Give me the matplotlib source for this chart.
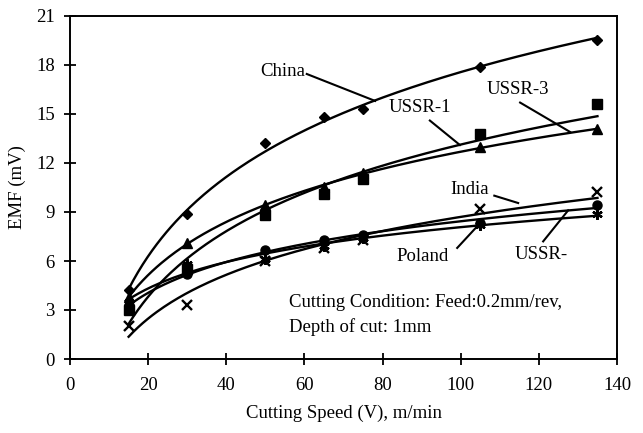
import numpy as np
import matplotlib
matplotlib.use("Agg")
import matplotlib.pyplot as plt

plt.rcParams['font.family'] = ['Liberation Serif', 'DejaVu Serif']

speed = [15, 30, 50, 65, 75, 105, 135]
china = [4.2, 8.9, 13.2, 14.8, 15.3, 17.9, 19.5]
ussr1 = [3.8, 7.1, 9.4, 10.5, 11.4, 13.0, 14.1]
ussr3 = [3.0, 5.5, 8.8, 10.1, 11.0, 13.8, 15.6]
india = [2.0, 3.3, 6.0, 6.8, 7.3, 9.2, 10.2]
poland = [3.2, 5.2, 6.7, 7.3, 7.6, 8.3, 9.4]
ussr_ = [3.5, 5.8, 6.1, 6.9, 7.4, 8.2, 8.9]

series = [
    ("China", china, "D", 5.5),
    ("USSR-1", ussr1, "^", 6.5),
    ("USSR-3", ussr3, "s", 6.5),
    ("India", india, "x", 6.5),
    ("Poland", poland, "o", 6.5),
    ("USSR-", ussr_, (6, 2, 0), 7.5),
]

xticks = [0, 20, 40, 60, 80, 100, 120, 140]
yticks = [0, 3, 6, 9, 12, 15, 18, 21]

FS = 13.5

fig = plt.figure(figsize=(6.43, 4.33), dpi=100)
ax = fig.add_axes([70/643, 1-359/433, (617-70)/643, (359-16)/433])

x = np.array(speed, dtype=float)
xs = np.linspace(15, 135, 200)
for name, vals, mk, ms in series:
    y = np.array(vals)
    a, b = np.polyfit(np.log(x), y, 1)
    ax.plot(xs, a*np.log(xs) + b, color='black', lw=1.7, zorder=2)
    mew = 1.7 if mk == "x" or isinstance(mk, tuple) else 1
    ax.plot(x, y, linestyle='none', marker=mk, markersize=ms, color='black',
            markeredgewidth=mew, zorder=3)

# labels with leader lines (label pos, line start, line end)
labels = [
    ("China", (54.5, 17.6), (60.6, 17.45), (78.1, 15.8)),
    ("USSR-1", (89.6, 15.4), (92.1, 14.6), (99.8, 13.1)),
    ("USSR-3", (114.7, 16.5), (115.2, 15.7), (128.0, 13.9)),
    ("India", (102.4, 10.4), (108.6, 10.0), (114.7, 9.55)),
    ("Poland", (90.3, 6.25), (99.1, 6.8), (104.9, 8.3)),
    ("USSR-", (120.6, 6.4), (121.1, 7.2), (127.5, 9.1)),
]
for txt, pos, p0, p1 in labels:
    ax.text(pos[0], pos[1], txt, ha='center', va='center', fontsize=FS)
    ax.plot([p0[0], p1[0]], [p0[1], p1[1]], color='black', lw=1.5)

ax.text(56.1, 3.43, "Cutting Condition: Feed:0.2mm/rev,", ha='left', va='center', fontsize=FS)
ax.text(56.1, 1.96, "Depth of cut: 1mm", ha='left', va='center', fontsize=FS)

ax.set_xlim(0, 140)
ax.set_ylim(0, 21)
ax.set_xticks(xticks)
ax.set_yticks(yticks)
ax.tick_params(direction='inout', length=8, width=1.3, labelsize=FS)
ax.tick_params(axis='x', pad=9)
ax.tick_params(axis='y', pad=7)
for s in ax.spines.values():
    s.set_linewidth(1.4)
ax.set_xlabel("Cutting Speed (V), m/min", fontsize=FS, labelpad=8)
ax.set_ylabel("EMF (mV)", fontsize=FS, labelpad=7)

fig.savefig("out.png", dpi=100)
